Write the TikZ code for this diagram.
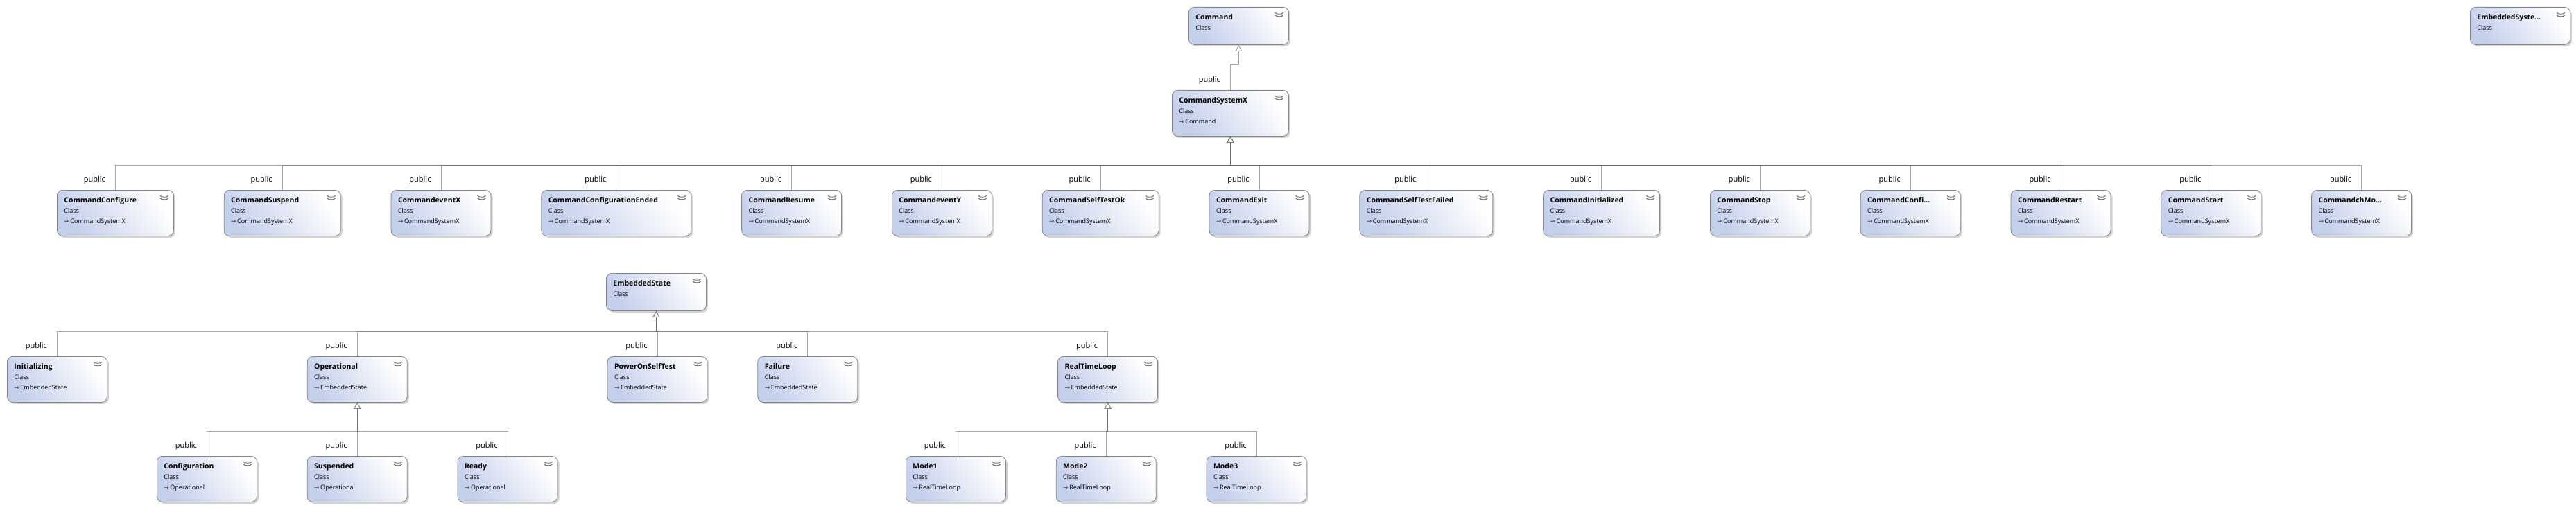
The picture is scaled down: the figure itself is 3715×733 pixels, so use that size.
\documentclass[tikz,border=0pt]{standalone}
\usepackage{fontspec}
\setmainfont{Open Sans}
\newfontfamily\symfont{DejaVu Sans}
\usetikzlibrary{positioning, arrows.meta, shadows}
\definecolor{boxblue}{RGB}{196,207,236}
\definecolor{boxborder}{RGB}{135,135,135}
\definecolor{conn}{RGB}{105,105,105}
\definecolor{chev}{RGB}{120,120,120}
\newcommand{\classname}[1]{{\fontsize{10.5}{15}\selectfont\bfseries #1}}
\newcommand{\inh}{{\symfont ⇾}\,}
\tikzset{
	classbox/.style={draw=boxborder, line width=0.8pt, rounded corners=8pt,
		top color=white, bottom color=boxblue, shading angle=-55,
		drop shadow={shadow xshift=2.5pt, shadow yshift=-2.5pt, fill=black!30, opacity=0.6},
		anchor=north west, align=left, inner xsep=10pt, inner ysep=0pt,
		text height=18pt, text depth=48pt, font=\fontsize{9}{15}\selectfont,
		path picture={
			\draw[draw=chev, line width=0.9pt]
			([shift={(-17pt,-10pt)}]path picture bounding box.north east) -- ++(3.5pt,-3pt) -- ++(3.5pt,3pt)
			([shift={(-17pt,-13.5pt)}]path picture bounding box.north east) -- ++(3.5pt,-3pt) -- ++(3.5pt,3pt);
		}},
	twoline/.style={text depth=36pt},
	inherit/.style={draw=conn, draw opacity=0.6, line width=1pt,
		-{Triangle[open, length=9pt, width=10pt, fill=white]},
		to path={-- ++(0,-36) \tikztonodes -| (\tikztotarget)}},
	publabel/.style={font=\fontsize{11}{13}\selectfont, anchor=east, pos=0.4, xshift=-14pt, inner sep=0pt}
}
\begin{document}
\begin{tikzpicture}[x=1pt, y=-1pt]
	\useasboundingbox (0,0) rectangle (3715,733);
	
	%top
	\node[classbox, twoline, text width=124pt] (command) at (1714,10) {\classname{Command}\\ Class};
	\node[classbox, twoline, text width=124pt] (embsys) at (3562,10) {\classname{EmbeddedSyste...}\\ Class};
	\node[classbox, text width=148pt] (csysx) at (1690,130) {\classname{CommandSystemX}\\ Class\\ \inh Command};
	
	%commands
	\node[classbox, text width=148pt] (cconfigure) at (82,274) {\classname{CommandConfigure}\\ Class\\ \inh CommandSystemX};
	\node[classbox, text width=148pt, right=72pt of cconfigure] (csuspend) {\classname{CommandSuspend}\\ Class\\ \inh CommandSystemX};
	\node[classbox, text width=124pt, right=72pt of csuspend] (ceventx) {\classname{CommandeventX}\\ Class\\ \inh CommandSystemX};
	\node[classbox, text width=196pt, right=72pt of ceventx] (cconfended) {\classname{CommandConfigurationEnded}\\ Class\\ \inh CommandSystemX};
	\node[classbox, text width=124pt, right=72pt of cconfended] (cresume) {\classname{CommandResume}\\ Class\\ \inh CommandSystemX};
	\node[classbox, text width=124pt, right=72pt of cresume] (ceventy) {\classname{CommandeventY}\\ Class\\ \inh CommandSystemX};
	\node[classbox, text width=148pt, right=72pt of ceventy] (cselftestok) {\classname{CommandSelfTestOk}\\ Class\\ \inh CommandSystemX};
	\node[classbox, text width=124pt, right=72pt of cselftestok] (cexit) {\classname{CommandExit}\\ Class\\ \inh CommandSystemX};
	\node[classbox, text width=172pt, right=72pt of cexit] (cselftestfail) {\classname{CommandSelfTestFailed}\\ Class\\ \inh CommandSystemX};
	\node[classbox, text width=148pt, right=72pt of cselftestfail] (cinitialized) {\classname{CommandInitialized}\\ Class\\ \inh CommandSystemX};
	\node[classbox, text width=124pt, right=72pt of cinitialized] (cstop) {\classname{CommandStop}\\ Class\\ \inh CommandSystemX};
	\node[classbox, text width=124pt, right=72pt of cstop] (cconfi) {\classname{CommandConfi...}\\ Class\\ \inh CommandSystemX};
	\node[classbox, text width=124pt, right=72pt of cconfi] (crestart) {\classname{CommandRestart}\\ Class\\ \inh CommandSystemX};
	\node[classbox, text width=124pt, right=72pt of crestart] (cstart) {\classname{CommandStart}\\ Class\\ \inh CommandSystemX};
	\node[classbox, text width=124pt, right=72pt of cstart] (cchmo) {\classname{CommandchMo...}\\ Class\\ \inh CommandSystemX};
	
	%states
	\node[classbox, twoline, text width=124pt] (embstate) at (874,394) {\classname{EmbeddedState}\\ Class};
	\node[classbox, text width=124pt] (initializing) at (10,514) {\classname{Initializing}\\ Class\\ \inh EmbeddedState};
	\node[classbox, text width=124pt, right=288pt of initializing] (operational) {\classname{Operational}\\ Class\\ \inh EmbeddedState};
	\node[classbox, text width=124pt, right=288pt of operational] (poweron) {\classname{PowerOnSelfTest}\\ Class\\ \inh EmbeddedState};
	\node[classbox, text width=124pt, right=72pt of poweron] (failure) {\classname{Failure}\\ Class\\ \inh EmbeddedState};
	\node[classbox, text width=124pt, right=288pt of failure] (rtloop) {\classname{RealTimeLoop}\\ Class\\ \inh EmbeddedState};
	
	%substates
	\node[classbox, text width=124pt] (configuration) at (226,658) {\classname{Configuration}\\ Class\\ \inh Operational};
	\node[classbox, text width=124pt, right=72pt of configuration] (suspended) {\classname{Suspended}\\ Class\\ \inh Operational};
	\node[classbox, text width=124pt, right=72pt of suspended] (ready) {\classname{Ready}\\ Class\\ \inh Operational};
	\node[classbox, text width=124pt] (mode1) at (1306,658) {\classname{Mode1}\\ Class\\ \inh RealTimeLoop};
	\node[classbox, text width=124pt, right=72pt of mode1] (mode2) {\classname{Mode2}\\ Class\\ \inh RealTimeLoop};
	\node[classbox, text width=124pt, right=72pt of mode2] (mode3) {\classname{Mode3}\\ Class\\ \inh RealTimeLoop};
	
	\draw
	(csysx.north) edge[inherit] node[publabel] {public} (command.south)
	
	(cconfigure.north) edge[inherit] node[publabel] {public} (csysx.south)
	(csuspend.north) edge[inherit] node[publabel] {public} (csysx.south)
	(ceventx.north) edge[inherit] node[publabel] {public} (csysx.south)
	(cconfended.north) edge[inherit] node[publabel] {public} (csysx.south)
	(cresume.north) edge[inherit] node[publabel] {public} (csysx.south)
	(ceventy.north) edge[inherit] node[publabel] {public} (csysx.south)
	(cselftestok.north) edge[inherit] node[publabel] {public} (csysx.south)
	(cexit.north) edge[inherit] node[publabel] {public} (csysx.south)
	(cselftestfail.north) edge[inherit] node[publabel] {public} (csysx.south)
	(cinitialized.north) edge[inherit] node[publabel] {public} (csysx.south)
	(cstop.north) edge[inherit] node[publabel] {public} (csysx.south)
	(cconfi.north) edge[inherit] node[publabel] {public} (csysx.south)
	(crestart.north) edge[inherit] node[publabel] {public} (csysx.south)
	(cstart.north) edge[inherit] node[publabel] {public} (csysx.south)
	(cchmo.north) edge[inherit] node[publabel] {public} (csysx.south)
	
	(initializing.north) edge[inherit] node[publabel] {public} (embstate.south)
	(operational.north) edge[inherit] node[publabel] {public} (embstate.south)
	(poweron.north) edge[inherit] node[publabel] {public} (embstate.south)
	(failure.north) edge[inherit] node[publabel] {public} (embstate.south)
	(rtloop.north) edge[inherit] node[publabel] {public} (embstate.south)
	
	(configuration.north) edge[inherit] node[publabel] {public} (operational.south)
	(suspended.north) edge[inherit] node[publabel] {public} (operational.south)
	(ready.north) edge[inherit] node[publabel] {public} (operational.south)
	
	(mode1.north) edge[inherit] node[publabel] {public} (rtloop.south)
	(mode2.north) edge[inherit] node[publabel] {public} (rtloop.south)
	(mode3.north) edge[inherit] node[publabel] {public} (rtloop.south)
	;
\end{tikzpicture}
\end{document}
